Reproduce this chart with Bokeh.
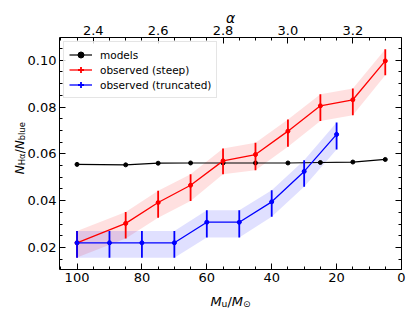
import numpy as np
from bokeh.plotting import figure
from bokeh.models import (Range1d, LinearAxis, FixedTicker, Label, Legend,
                          LegendItem, CustomJSTickFormatter)
from bokeh.embed import file_html
from bokeh.resources import INLINE

# ---- data ----
m_model = [100, 85, 75, 65, 55, 45, 35, 25, 15, 5]
models = [0.0555, 0.0553, 0.0560, 0.0561, 0.0561, 0.0561, 0.0561, 0.0563, 0.0565, 0.0576]

m_steep = [100, 85, 75, 65, 55, 45, 35, 25, 15, 5]
steep = [0.0220, 0.0303, 0.0392, 0.0466, 0.0570, 0.0597, 0.0697, 0.0805, 0.0831, 0.0997]
steep_lo = [0.0157, 0.0238, 0.0327, 0.0399, 0.0513, 0.0530, 0.0630, 0.0740, 0.0765, 0.0936]
steep_hi = [0.0270, 0.0352, 0.0442, 0.0513, 0.0623, 0.0647, 0.0747, 0.0855, 0.0879, 0.1047]

m_trunc = [100, 90, 80, 70, 60, 50, 40, 30, 20]
trunc = [0.0220, 0.0220, 0.0220, 0.0220, 0.0308, 0.0308, 0.0395, 0.0525, 0.0683]
trunc_lo = [0.0156, 0.0156, 0.0156, 0.0156, 0.0243, 0.0243, 0.0331, 0.0459, 0.0619]
trunc_hi = [0.0270, 0.0270, 0.0270, 0.0270, 0.0359, 0.0359, 0.0445, 0.0573, 0.0734]

x_ticks = [100, 80, 60, 40, 20, 0]
y_ticks = [0.02, 0.04, 0.06, 0.08, 0.10]
y_tick_labels = ["0.02", "0.04", "0.06", "0.08", "0.10"]
alpha_ticks = [2.4, 2.6, 2.8, 3.0, 3.2]
alpha_tick_labels = ["2.4", "2.6", "2.8", "3.0", "3.2"]

FONT = "DejaVu Sans"
X_LEFT, X_RIGHT = 105.4, 0.0
Y_BOT, Y_TOP = 0.0106, 0.1097
FW, FH = 342, 232

p = figure(frame_width=FW, frame_height=FH,
           x_range=Range1d(X_LEFT, X_RIGHT), y_range=Range1d(Y_BOT, Y_TOP),
           output_backend="svg", toolbar_location=None,
           min_border_left=59, min_border_right=14,
           min_border_top=37, min_border_bottom=42)
p.grid.visible = False
p.outline_line_color = None
p.background_fill_color = "white"
p.border_fill_color = "white"

# alpha = 3.35 - M/100 (top axis)
p.extra_x_ranges = {"alpha": Range1d(3.35 - X_LEFT / 100.0, 3.35 - X_RIGHT / 100.0)}


def style(ax):
    ax.axis_line_color = "black"
    ax.axis_line_width = 1
    ax.major_tick_in = 6
    ax.major_tick_out = 0
    ax.minor_tick_in = 3
    ax.minor_tick_out = 0
    ax.major_tick_line_color = "black"
    ax.minor_tick_line_color = "black"
    ax.major_label_text_font = FONT
    ax.major_label_text_font_size = "13px"
    ax.major_label_text_color = "black"
    ax.major_label_standoff = 3
    ax.axis_label = None


ymin = list(np.round(np.arange(0.01, 0.111, 0.005), 3))

xa = p.xaxis[0]
xa.ticker = FixedTicker(ticks=x_ticks, minor_ticks=list(np.arange(0, 106, 5)))
xa.major_label_overrides = {t: str(t) for t in x_ticks}
style(xa)

ya = p.yaxis[0]
ya.ticker = FixedTicker(ticks=y_ticks, minor_ticks=ymin)
ya.formatter = CustomJSTickFormatter(code="return tick.toFixed(2);")
style(ya)

top = LinearAxis(x_range_name="alpha",
                 ticker=FixedTicker(ticks=alpha_ticks,
                                    minor_ticks=list(np.round(np.arange(2.30, 3.351, 0.05), 2))),
                 formatter=CustomJSTickFormatter(code="return tick.toFixed(1);"))
style(top)
p.add_layout(top, "above")

right = LinearAxis(ticker=FixedTicker(ticks=y_ticks, minor_ticks=ymin),
                   formatter=CustomJSTickFormatter(code="return '';"))
style(right)
right.major_label_standoff = 0
p.add_layout(right, "right")

# ---- bands ----
p.varea(x=m_steep, y1=steep_lo, y2=steep_hi, fill_color="red", fill_alpha=0.12)
p.varea(x=m_trunc, y1=trunc_lo, y2=trunc_hi, fill_color="blue", fill_alpha=0.12)

# ---- models ----
r_mod_l = p.line(m_model, models, line_color="black", line_width=1.2)
r_mod_p = p.scatter(m_model, models, size=4, color="black")

# ---- steep ----
p.segment(x0=m_steep, y0=steep_lo, x1=m_steep, y1=steep_hi, line_color="red", line_width=1.8)
r_st_l = p.line(m_steep, steep, line_color="red", line_width=1.3)
p.scatter(m_steep, steep, size=4, color="red")
r_st_leg = p.scatter(m_steep, steep, marker="cross", size=4, line_color="red", line_width=1.8)

# ---- truncated ----
p.segment(x0=m_trunc, y0=trunc_lo, x1=m_trunc, y1=trunc_hi, line_color="blue", line_width=1.8)
r_tr_l = p.line(m_trunc, trunc, line_color="blue", line_width=1.3)
p.scatter(m_trunc, trunc, size=4, color="blue")
r_tr_leg = p.scatter(m_trunc, trunc, marker="cross", size=4, line_color="blue", line_width=1.8)

legend = Legend(items=[
    LegendItem(label="models", renderers=[r_mod_l, r_mod_p]),
    LegendItem(label="observed (steep)", renderers=[r_st_l, r_st_leg]),
    LegendItem(label="observed (truncated)", renderers=[r_tr_l, r_tr_leg]),
], location="top_left")
legend.margin = 4
legend.padding = 5
legend.spacing = 0
legend.glyph_width = 23
legend.glyph_height = 15
legend.label_height = 15
legend.label_standoff = 8
legend.label_text_font = FONT
legend.label_text_font_size = "10.5px"
legend.label_text_color = "black"
legend.border_line_color = "#cccccc"
legend.border_line_width = 1
legend.background_fill_alpha = 0.8
p.add_layout(legend)

# pixel -> data helpers (positions relative to the frame's bottom-left)
def dx(px):
    return X_LEFT - px * (X_LEFT - X_RIGHT) / FW


def dy(py):
    return Y_BOT + py * (Y_TOP - Y_BOT) / FH


def lab(text, px, py, size, place, italic=False, angle=0.0, align="left"):
    p.add_layout(Label(x=dx(px), y=dy(py), x_units="data", y_units="data", text=text,
                       text_font=FONT, text_font_size=f"{size}px",
                       text_font_style="italic" if italic else "normal",
                       angle=angle, text_align=align, text_baseline="alphabetic",
                       text_color="black"), place)


# x label: M_u / M_sun
fs, ss = 13, 9.1
x0 = 171 - 20.1
yb = -31.7
lab("M", x0, yb, fs, "below", italic=True)
lab("u", x0 + 11.2, yb - 3, ss, "below")
lab("/", x0 + 17.0, yb, fs, "below")
lab("M", x0 + 21.4, yb, fs, "below", italic=True)
lab("\u2299", x0 + 32.6, yb - 3, ss, "below")

# y label: N_Halpha / N_blue (rotated)
fs, ss = 12, 8.4
xb = -40.0
y0 = 121.3 - 26
ang = np.pi / 2
lab("N", xb, y0, fs, "below", italic=True, angle=ang)
lab("H\u03b1", xb + 2.5, y0 + 9.0, ss, "below", angle=ang)
lab("/", xb, y0 + 20.9, fs, "below", angle=ang)
lab("N", xb, y0 + 24.9, fs, "below", italic=True, angle=ang)
lab("blue", xb + 2.5, y0 + 33.9, ss, "below", angle=ang)

# top label: alpha
lab("\u03b1", 171, 251.8, 14, "above", italic=True, align="center")

open("out.html", "w").write(file_html(p, INLINE))
